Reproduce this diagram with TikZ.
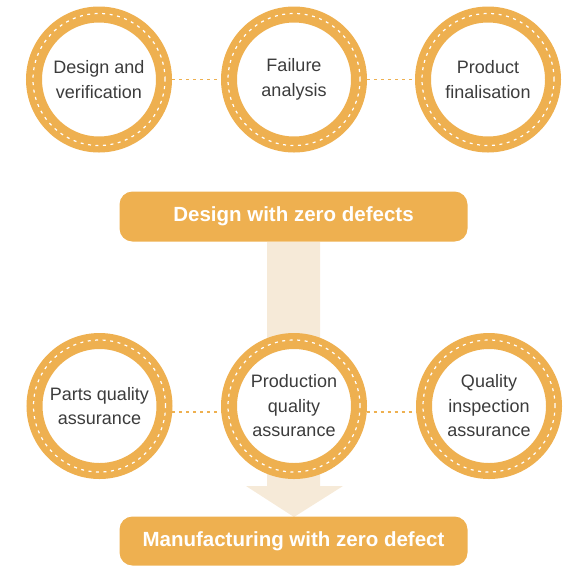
\documentclass[tikz,border=0pt]{standalone}
\usepackage{fontspec}
\setmainfont{Liberation Sans}
\definecolor{ora}{HTML}{EEB050}
\definecolor{beige}{HTML}{F6EAD8}
\definecolor{txt}{HTML}{3C3C3C}
\begin{document}
\begin{tikzpicture}[x=1pt,y=-1pt,
 ring/.style={circle, minimum size=130pt, inner sep=0pt, outer sep=8pt, line width=16pt, draw=ora, fill=white, align=center, font=\fontsize{18}{24.5}\selectfont, text=txt},
 stitch/.style={draw=white, line width=1.2pt, dash pattern=on 3pt off 4.5pt},
 link/.style={draw=ora, line width=1.8pt, dash pattern=on 3pt off 4pt},
 bar/.style={fill=ora, rounded corners=13pt, minimum width=348pt, minimum height=50pt, inner sep=0pt, text=white, font=\bfseries\fontsize{20.5}{24}\selectfont}]
\useasboundingbox (0,0) rectangle (572,566);
\clip (0,0) rectangle (572,566);
% big arrow behind
\fill[beige] (267,242) -- (320,242) -- (320,486) -- (343,486) -- (294,517) -- (246,486) -- (267,486) -- cycle;
% bars
\node[bar] (b1) at (293.5,216.5) {Design with zero defects};
\node[bar, minimum height=49pt] (b2) at (293.5,541) {Manufacturing with zero defect};
% circles
\node[ring] (dv) at (99,79.5) {Design and\\verification};
\node[ring] (fa) at (294,79.5) {Failure\\analysis};
\node[ring] (pf) at (488,79.5) {Product\\finalisation};
\node[ring] (pq) at (99.5,406) {Parts quality\\assurance};
\node[ring] (prq) at (294,406) {Production\\quality\\assurance};
\node[ring] (qi) at (489,406) {Quality\\inspection\\assurance};
\foreach \n in {dv,fa,pf,pq,prq,qi} \draw[stitch] (\n.center) circle (66pt);
% links
\draw[link] (dv.east) -- (fa.west);
\draw[link] (fa.east) -- (pf.west);
\draw[link] (pq.-5.5) -- (prq.185.5);
\draw[link] (prq.-5.5) -- (qi.185.5);
\end{tikzpicture}
\end{document}
